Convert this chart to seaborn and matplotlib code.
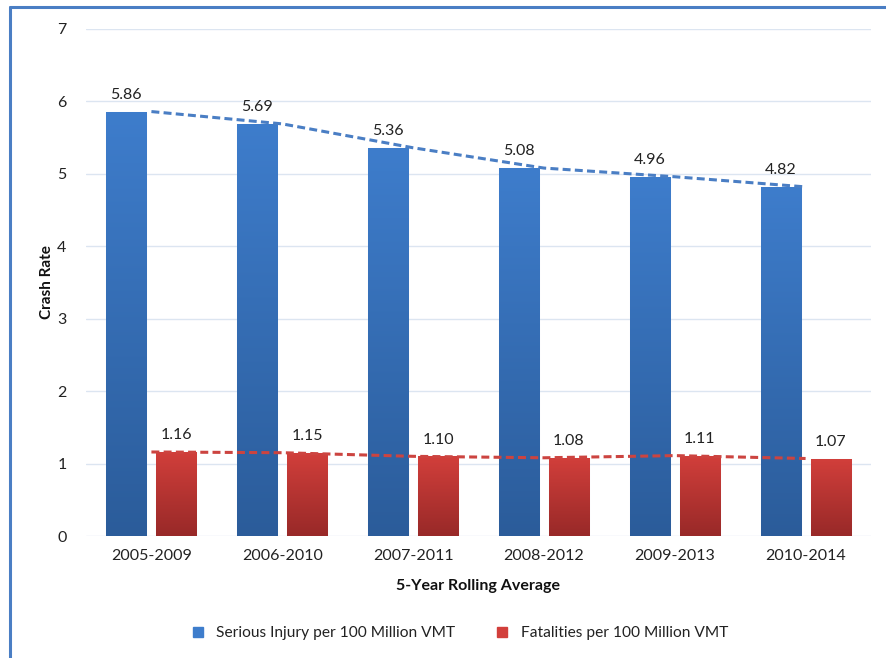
import numpy as np
import pandas as pd
import matplotlib
matplotlib.use("Agg")
import matplotlib.pyplot as plt
from matplotlib.colors import LinearSegmentedColormap
from matplotlib.lines import Line2D
import seaborn as sns

# Five-year rolling averages of crash rates
periods = ["2005-2009", "2006-2010", "2007-2011", "2008-2012", "2009-2013", "2010-2014"]
serious_injury = [5.86, 5.69, 5.36, 5.08, 4.96, 4.82]
fatalities = [1.16, 1.15, 1.10, 1.08, 1.11, 1.07]
series_names = ["Serious Injury per 100 Million VMT", "Fatalities per 100 Million VMT"]
y_ticks = [0, 1, 2, 3, 4, 5, 6, 7]

df = pd.DataFrame({
    "period": periods * 2,
    "rate": serious_injury + fatalities,
    "series": [series_names[0]] * len(periods) + [series_names[1]] * len(periods),
})

sns.set_theme(style="white")
plt.rcParams["font.family"] = ["Lato", "DejaVu Sans"]

W, H = 887, 658
fig = plt.figure(figsize=(W / 100, H / 100), dpi=100)
ax = fig.add_axes([86 / W, 1 - 536 / H, (871 - 86) / W, (536 - 29) / H])

blue_top, blue_bot = "#3E7DCC", "#2B5C9A"
red_top, red_bot = "#D23F3B", "#982928"
palette = {series_names[0]: blue_top, series_names[1]: red_top}

sns.barplot(data=df, x="period", y="rate", hue="series", palette=palette,
            width=0.765, gap=0.2, saturation=1, legend=False, ax=ax,
            edgecolor="#E3E8EF", linewidth=0.8, zorder=2)

# vertical gradient fill clipped to each bar
cmaps = [LinearSegmentedColormap.from_list("b", [blue_bot, blue_top]),
         LinearSegmentedColormap.from_list("r", [red_bot, red_top])]
grad = np.linspace(0, 1, 256).reshape(-1, 1)
for container, cmap in zip(ax.containers, cmaps):
    for patch in container.patches:
        x0, y0 = patch.get_x(), patch.get_y()
        w, h = patch.get_width(), patch.get_height()
        im = ax.imshow(grad, extent=[x0, x0 + w, y0, y0 + h], origin="lower",
                       cmap=cmap, aspect="auto", zorder=2.1, interpolation="bilinear")
        im.set_clip_path(patch)

# value labels above bars
for container, vals in zip(ax.containers, [serious_injury, fatalities]):
    ax.bar_label(container, labels=[f"{v:.2f}" for v in vals], padding=7,
                 fontsize=11.5, color="#222222", zorder=5)

# trend lines through each series
xs = list(range(len(periods)))
sns.lineplot(x=xs, y=serious_injury, ax=ax, color="#4A7EC4", linewidth=2.2,
             dashes=False, zorder=4, linestyle=(0, (2.6, 1.4)))
sns.lineplot(x=xs, y=fatalities, ax=ax, color="#CC4440", linewidth=2.2,
             dashes=False, zorder=4, linestyle=(0, (2.6, 1.4)))

ax.set_xlim(-0.5, len(periods) - 0.5)
ax.set_ylim(0, 7)
ax.set_yticks(y_ticks)
ax.set_yticklabels([str(t) for t in y_ticks])
ax.grid(axis="y", color="#DCE5F1", linewidth=1.0, zorder=0)
ax.set_axisbelow(True)
for s in ax.spines.values():
    s.set_visible(False)
ax.tick_params(axis="both", length=0, labelsize=11.5, colors="#222222")
ax.tick_params(axis="x", pad=9)
ax.tick_params(axis="y", pad=14)

ax.set_xlabel("5-Year Rolling Average", fontsize=11.5, fontweight="bold",
              color="#111111", labelpad=12)
ax.set_ylabel("Crash Rate", fontsize=11, fontweight="bold", color="#111111",
              labelpad=2)

handles = [Line2D([], [], marker="s", linestyle="none", markersize=7,
                  markerfacecolor=c, markeredgecolor=c) for c in (blue_top, red_top)]
fig.legend(handles, series_names, loc="center", bbox_to_anchor=(455 / W, 1 - 633 / H),
           ncol=2, frameon=False, fontsize=11.2, handletextpad=0.2, columnspacing=2.0,
           labelcolor="#222222")

# outer frame (left and top edges)
fig.add_artist(Line2D([10 / W, 10 / W], [0, 1 - 7 / H], color="#4A7EC4", linewidth=2.2))
fig.add_artist(Line2D([10 / W, 1], [1 - 7 / H, 1 - 7 / H], color="#4A7EC4", linewidth=2.2))

fig.savefig("out.png", dpi=100)
